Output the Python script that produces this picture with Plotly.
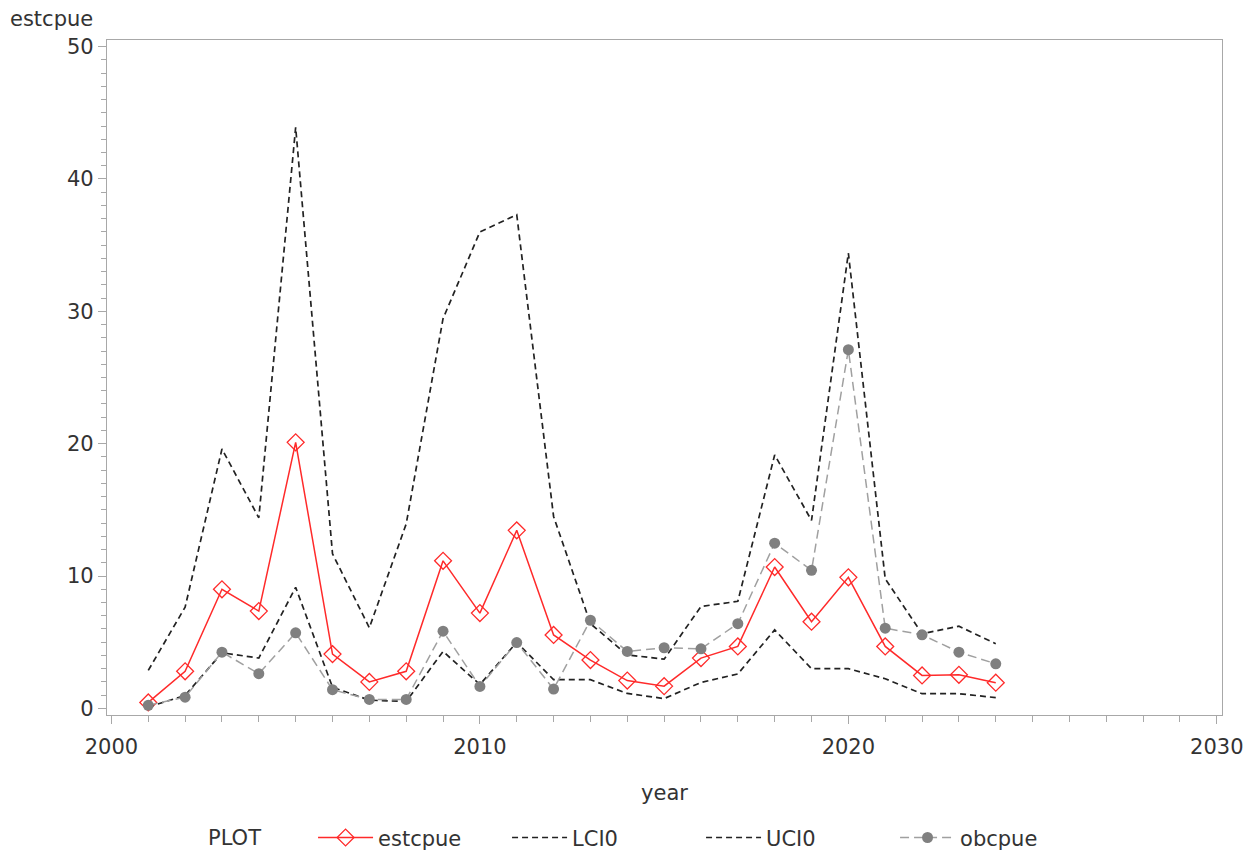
import plotly.graph_objects as go

years = list(range(2001, 2025))
estcpue = [0.45, 2.8, 9.0, 7.35, 20.1, 4.1, 2.0, 2.8, 11.15, 7.2, 13.45, 5.55, 3.65, 2.1, 1.68, 3.8, 4.68, 10.68, 6.55, 9.9, 4.68, 2.49, 2.54, 1.94]
lci0 = [0.1, 0.98, 4.2, 3.8, 9.15, 1.6, 0.62, 0.52, 4.3, 1.8, 5.0, 2.17, 2.17, 1.13, 0.74, 1.96, 2.6, 5.93, 3.0, 3.0, 2.24, 1.11, 1.11, 0.81]
uci0 = [2.87, 7.65, 19.6, 14.4, 43.9, 11.68, 6.09, 13.94, 29.45, 36.0, 37.3, 14.5, 6.4, 4.04, 3.72, 7.7, 8.09, 19.15, 14.2, 34.4, 9.79, 5.64, 6.21, 4.88]
obcpue = [0.23, 0.85, 4.25, 2.62, 5.71, 1.41, 0.68, 0.68, 5.83, 1.66, 4.97, 1.46, 6.66, 4.3, 4.58, 4.5, 6.4, 12.48, 10.43, 27.1, 6.06, 5.56, 4.25, 3.37]

xticks = [2000, 2010, 2020, 2030]
yticks = [0, 10, 20, 30, 40, 50]

FONT = "DejaVu Sans"
FS = 21
TXT = "#333333"
AX = "#A8A8A8"

fig = go.Figure()
fig.add_trace(go.Scatter(x=years, y=estcpue, name="estcpue", mode="lines+markers",
                         line=dict(color="#FF2A2A", width=1.5),
                         marker=dict(symbol="diamond-open", size=13, color="#FF2A2A", line=dict(width=1.3))))
fig.add_trace(go.Scatter(x=years, y=lci0, name="LCI0", mode="lines",
                         line=dict(color="#222222", width=1.7, dash="6px,4px")))
fig.add_trace(go.Scatter(x=years, y=uci0, name="UCI0", mode="lines",
                         line=dict(color="#222222", width=1.7, dash="6px,4px")))
fig.add_trace(go.Scatter(x=years, y=obcpue, name="obcpue", mode="lines+markers",
                         line=dict(color="#A0A0A0", width=1.5, dash="9px,5px"),
                         marker=dict(symbol="circle", size=11, color="#808080")))

axis_common = dict(showline=True, linecolor=AX, linewidth=1.3, mirror=True,
                   showgrid=False, zeroline=False, ticks="outside", ticklen=8,
                   tickcolor=AX, tickwidth=1.3, ticklabeloverflow="allow",
                   tickfont=dict(family=FONT, size=FS, color=TXT))

fig.update_xaxes(range=[1999.88, 2030.14], tickvals=xticks, **axis_common,
                 ticklabelstandoff=5,
                 minor=dict(dtick=1, tick0=2000, ticks="outside", ticklen=6, tickcolor=AX, tickwidth=1),
                 title=dict(text="year", font=dict(family=FONT, size=FS, color=TXT), standoff=26))
fig.update_yaxes(range=[-0.5, 50.5], tickvals=yticks, **axis_common,
                 minor=dict(dtick=1, tick0=0, ticks="outside", ticklen=5, tickcolor=AX, tickwidth=1))

# plot area: absolute x 107..1222, y 40..715 (page has 8px body margin)
fig.add_annotation(text="estcpue", xref="paper", yref="paper", x=-0.0888, y=1.0, yshift=7,
                   xanchor="left", yanchor="bottom", showarrow=False,
                   font=dict(family=FONT, size=FS, color=TXT))
fig.add_annotation(text="PLOT", xref="paper", yref="paper", x=0.0888, y=-0.182,
                   xanchor="left", yanchor="middle", showarrow=False,
                   font=dict(family=FONT, size=FS, color=TXT))

fig.update_layout(
    width=1243, height=845,
    margin=dict(l=99, r=29, t=32, b=138, autoexpand=False),
    plot_bgcolor="white", paper_bgcolor="white",
    font=dict(family=FONT, size=FS, color=TXT),
    legend=dict(orientation="h", x=0.1848, xanchor="left", y=-0.182, yanchor="middle",
                entrywidth=124, entrywidthmode="pixels", itemwidth=55,
                font=dict(family=FONT, size=FS, color=TXT)),
)

fig.write_html("out.html")
